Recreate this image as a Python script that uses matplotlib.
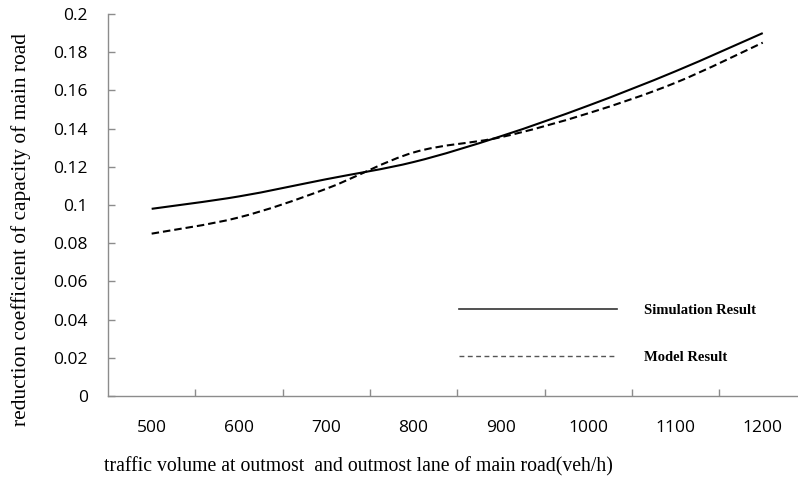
import numpy as np
import matplotlib
matplotlib.use('Agg')
import matplotlib.pyplot as plt
from matplotlib.path import Path
from matplotlib.patches import PathPatch
from matplotlib.lines import Line2D

# traffic volume categories and the two result series
volumes = ['500', '600', '700', '800', '900', '1000', '1100', '1200']
simulation = [0.098, 0.1045, 0.1135, 0.1225, 0.136, 0.152, 0.170, 0.190]
model = [0.085, 0.0935, 0.1085, 0.1275, 0.1355, 0.148, 0.164, 0.185]
y_ticks = [0, 0.02, 0.04, 0.06, 0.08, 0.1, 0.12, 0.14, 0.16, 0.18, 0.2]
y_tick_labels = ['0', '0.02', '0.04', '0.06', '0.08', '0.1', '0.12', '0.14', '0.16', '0.18', '0.2']


def smooth_path(xs, ys):
    # Excel-style smoothed line: cubic bezier through every point
    pts = np.column_stack([xs, ys]).astype(float)
    n = len(pts)
    verts = [pts[0]]
    codes = [Path.MOVETO]
    for i in range(n - 1):
        p0 = pts[i - 1] if i > 0 else pts[i]
        p1 = pts[i]
        p2 = pts[i + 1]
        p3 = pts[i + 2] if i + 2 < n else pts[i + 1]
        verts += [p1 + (p2 - p0) / 6.0, p2 - (p3 - p1) / 6.0, p2]
        codes += [Path.CURVE4] * 3
    return Path(verts, codes)


W, H = 798, 488
fig = plt.figure(figsize=(W / 100, H / 100), dpi=100)
ax = fig.add_axes([108 / W, (H - 396) / H, 698.4 / W, 382 / H])

x = np.arange(len(volumes))
ax.add_patch(PathPatch(smooth_path(x, simulation), fill=False, edgecolor='black',
                       lw=1.5, capstyle='butt'))
ax.add_patch(PathPatch(smooth_path(x, model), fill=False, edgecolor='black',
                       lw=1.5, linestyle=(0, (3.6, 1.9)), capstyle='butt'))

ax.set_xlim(-0.5, len(volumes) - 0.5)
ax.set_ylim(0, 0.2)

ax.spines['top'].set_visible(False)
ax.spines['right'].set_visible(False)
for s in ['left', 'bottom']:
    ax.spines[s].set_color('#8c8c8c')
    ax.spines[s].set_linewidth(1.0)

tick_font = dict(family='Open Sans', size=12.5, color='black')
ax.set_xticks(x)
ax.set_xticklabels(volumes, **tick_font)
ax.set_xticks(np.arange(0.5, len(volumes), 1.0), minor=True)
ax.tick_params(axis='x', which='major', length=0, pad=17)
ax.tick_params(axis='x', which='minor', direction='in', length=5, color='#8c8c8c', width=1.0)
ax.set_yticks(y_ticks)
ax.set_yticklabels(y_tick_labels, **tick_font)
ax.tick_params(axis='y', direction='in', length=5, color='#8c8c8c', width=1.0, pad=14.5)

fig.text(21 / W, (H - 230) / H, 'reduction coefficient of capacity of main road',
         rotation=90, ha='center', va='center', family='Liberation Serif', size=15.4)
fig.text(358 / W, (H - 467) / H, 'traffic volume at outmost  and outmost lane of main road(veh/h)',
         ha='center', va='center', family='Liberation Serif', size=14.2)

handles = [Line2D([], [], color='#333333', lw=1.2),
           Line2D([], [], color='#555555', lw=1.0, linestyle=(0, (3.5, 2.5)))]
leg = ax.legend(handles, ['Simulation Result', 'Model Result'],
                loc='upper left', bbox_to_anchor=(459 / W, (H - 304) / H),
                bbox_transform=fig.transFigure, frameon=False,
                borderpad=0, borderaxespad=0, handlelength=10.8, handletextpad=1.9,
                labelspacing=2.3, prop=dict(family='Liberation Serif', weight='bold', size=10.5))

fig.savefig('out.png', dpi=100)
